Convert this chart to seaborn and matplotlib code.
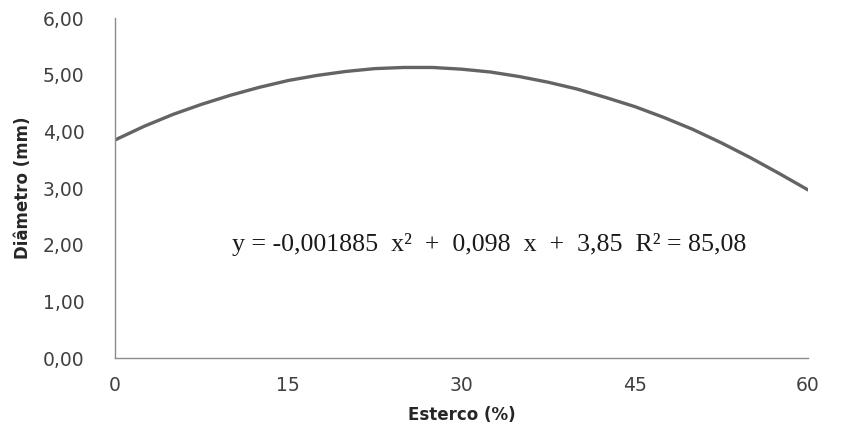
import matplotlib
matplotlib.use("Agg")
import matplotlib.pyplot as plt
import pandas as pd
import seaborn as sns

# values
esterco = [0, 2.5, 5, 7.5, 10, 12.5, 15, 17.5, 20, 22.5, 25, 27.5, 30,
           32.5, 35, 37.5, 40, 42.5, 45, 47.5, 50, 52.5, 55, 57.5, 60]
diametro = [3.85, 4.09, 4.30, 4.48, 4.64, 4.78, 4.90, 4.99, 5.06, 5.11, 5.13, 5.13, 5.10,
            5.05, 4.97, 4.87, 4.75, 4.60, 4.44, 4.25, 4.04, 3.80, 3.54, 3.26, 2.97]
x_ticks = [0, 15, 30, 45, 60]
y_ticks = [0, 1, 2, 3, 4, 5, 6]
equation = "y = -0,001885  x\u00b2  +  0,098  x  +  3,85  R\u00b2 = 85,08"


def main():
    sns.set_theme(style="white")
    plt.rcParams["font.family"] = ["DejaVu Sans"]

    df = pd.DataFrame({"Esterco": esterco, "Diametro": diametro})

    fig = plt.figure(figsize=(8.65, 4.33), dpi=100)
    ax = fig.add_axes([0.133, 0.173, 0.801, 0.785])

    sns.lineplot(data=df, x="Esterco", y="Diametro", color="#646464",
                 linewidth=2.4, ax=ax)

    ax.set_xlim(0, 60)
    ax.set_ylim(0, 6)
    ax.set_xticks(x_ticks)
    ax.set_yticks(y_ticks)
    ax.set_yticklabels([f"{v:.2f}".replace(".", ",") for v in y_ticks])
    ax.tick_params(axis="both", length=0, labelsize=13.5, labelcolor="#404040")
    ax.tick_params(axis="y", pad=22)
    ax.tick_params(axis="x", pad=13)

    for side in ["top", "right"]:
        ax.spines[side].set_visible(False)
    for side in ["left", "bottom"]:
        ax.spines[side].set_color("#8c8c8c")
        ax.spines[side].set_linewidth(1.0)

    ax.set_xlabel("Esterco (%)", fontsize=12, fontweight="bold", labelpad=8)
    ax.set_ylabel("Diâmetro (mm)", fontsize=12, fontweight="bold", labelpad=8)

    ax.text(10.1, 2.0, equation, family="Liberation Serif", fontsize=18.6,
            va="center", ha="left", color="#1a1a1a")

    fig.savefig("out.png", dpi=100)


if __name__ == "__main__":
    main()
